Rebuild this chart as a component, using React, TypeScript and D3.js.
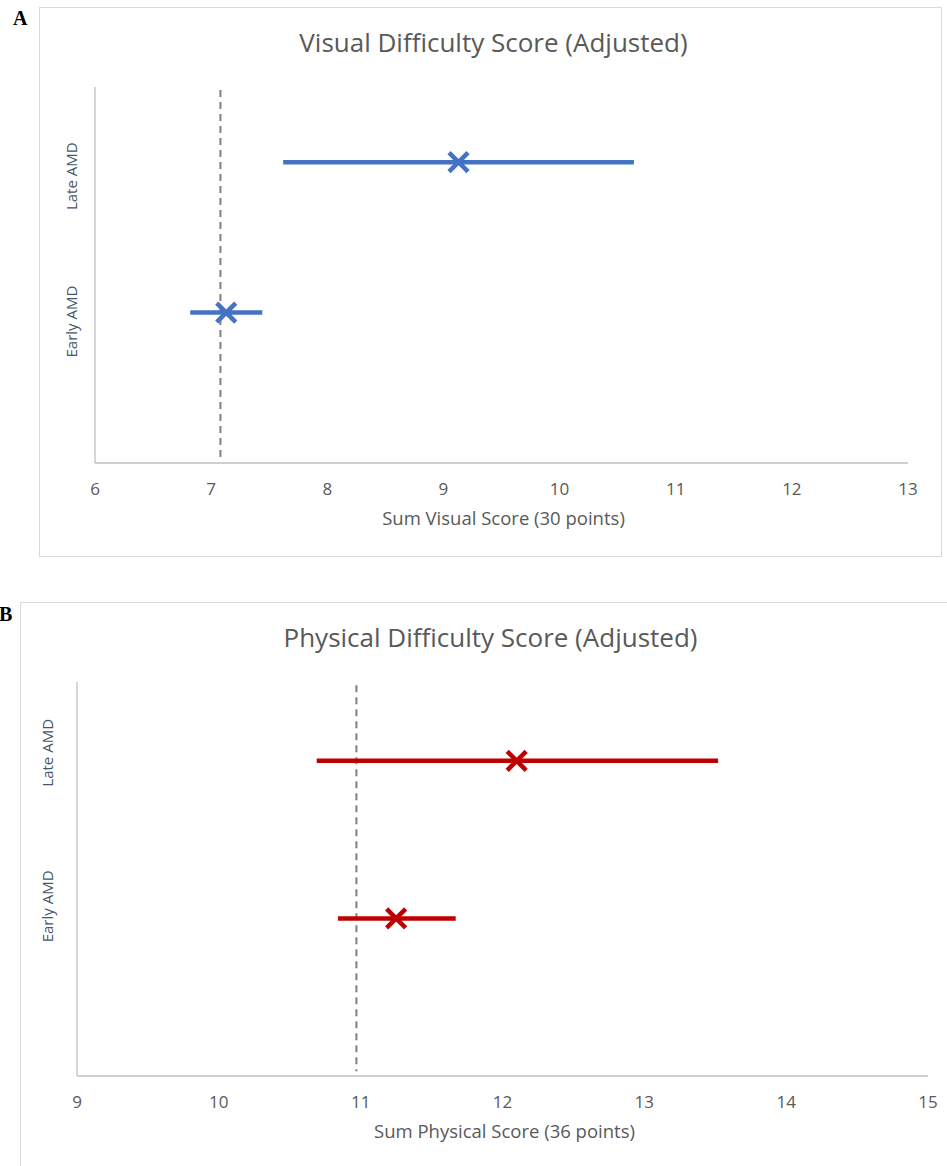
import React from 'react'
import * as d3 from 'd3'

// categories sit on a numeric y axis (Excel scatter style), Early = 1, Late = 2
const categories = ['Early AMD', 'Late AMD']
const categoryY = [1, 2]

const visualMean = [7.13, 9.13]
const visualLow = [6.82, 7.62]
const visualHigh = [7.44, 10.64]
const visualRef = 7.08
const visualTicks = [6, 7, 8, 9, 10, 11, 12, 13]

const physicalMean = [11.25, 12.1]
const physicalLow = [10.84, 10.69]
const physicalHigh = [11.67, 13.52]
const physicalRef = 10.97
const physicalTicks = [9, 10, 11, 12, 13, 14, 15]

const FONT = "'Open Sans', 'Noto Sans', sans-serif"

function Panel(props: any) {
    const { letter, title, axisTitle, mean, low, high, refValue, ticks, color, box, plot, letterPos, labelShift, labelGap, titleShift } = props

    const x = d3
        .scaleLinear()
        .domain([ticks[0], ticks[ticks.length - 1]])
        .range([plot.left, plot.right])

    const y = d3
        .scaleLinear()
        .domain([0, 2.5])
        .range([plot.bottom, plot.top])

    const cx = (plot.left + plot.right) / 2
    const arm = 9.5

    return (
        <g>
            <rect x={box.x} y={box.y} width={box.w} height={box.h} fill="#fff" stroke="#d9d9d9" strokeWidth={1} />
            <text x={letterPos[0]} y={letterPos[1]} fontFamily="'Liberation Serif', serif" fontWeight="bold" fontSize={20}>{letter}</text>
            <text x={cx + titleShift} y={plot.top - 35} textAnchor="middle" fontFamily={FONT} fontSize={26} fill="#595959">{title}</text>

            {/* axes */}
            <line x1={plot.left} x2={plot.left} y1={plot.top} y2={plot.bottom} stroke="#bfbfbf" strokeWidth={1.3} />
            <line x1={plot.left} x2={plot.right} y1={plot.bottom} y2={plot.bottom} stroke="#bfbfbf" strokeWidth={1.3} />
            {ticks.map((t: number) => (
                <text key={t} x={x(t)} y={plot.bottom + 32} textAnchor="middle" fontFamily={FONT} fontSize={17} fill="#595959">{t}</text>
            ))}
            <text x={cx + 2} y={plot.bottom + 62} textAnchor="middle" fontFamily={FONT} fontSize={18.5} fill="#595959">{axisTitle}</text>

            {categories.map((c, i) => (
                <text key={c} transform={`translate(${plot.left - labelGap},${y(categoryY[i]) + labelShift[i]}) rotate(-90)`} textAnchor="middle"
                    fontFamily={FONT} fontSize={15} fill="#44546a">{c}</text>
            ))}

            {/* reference line */}
            <line x1={x(refValue)} x2={x(refValue)} y1={y(2.48)} y2={y(0.03)} stroke="#7f7f7f" strokeWidth={2} strokeDasharray="7,5" />

            {categories.map((c, i) => (
                <g key={c}>
                    <line x1={x(low[i])} x2={x(high[i])} y1={y(categoryY[i])} y2={y(categoryY[i])} stroke={color} strokeWidth={4.5} />
                    <g transform={`translate(${x(mean[i])},${y(categoryY[i])})`} stroke={color} strokeWidth={4.5}>
                        <line x1={-arm} y1={-arm} x2={arm} y2={arm} />
                        <line x1={-arm} y1={arm} x2={arm} y2={-arm} />
                    </g>
                </g>
            ))}
        </g>
    )
}

export default function App() {
    return (
        <svg width={947} height={1166} style={{ position: 'absolute', left: 0, top: 0, background: '#fff' }}>
            <Panel
                letter="A"
                title="Visual Difficulty Score (Adjusted)"
                axisTitle="Sum Visual Score (30 points)"
                mean={visualMean}
                low={visualLow}
                high={visualHigh}
                refValue={visualRef}
                ticks={visualTicks}
                color="#4472c4"
                box={{ x: 39.5, y: 7.5, w: 902, h: 549 }}
                plot={{ left: 95, right: 908, top: 87, bottom: 463 }}
                letterPos={[13, 25]}
                labelShift={[9, 14]}
                labelGap={18}
                titleShift={-8}
            />
            <Panel
                letter="B"
                title="Physical Difficulty Score (Adjusted)"
                axisTitle="Sum Physical Score (36 points)"
                mean={physicalMean}
                low={physicalLow}
                high={physicalHigh}
                refValue={physicalRef}
                ticks={physicalTicks}
                color="#c00000"
                box={{ x: 20.5, y: 602.5, w: 940, h: 600 }}
                plot={{ left: 77, right: 928, top: 682, bottom: 1076 }}
                letterPos={[-1, 621]}
                labelShift={[-12, -8]}
                labelGap={24}
                titleShift={-12}
            />
        </svg>
    )
}
